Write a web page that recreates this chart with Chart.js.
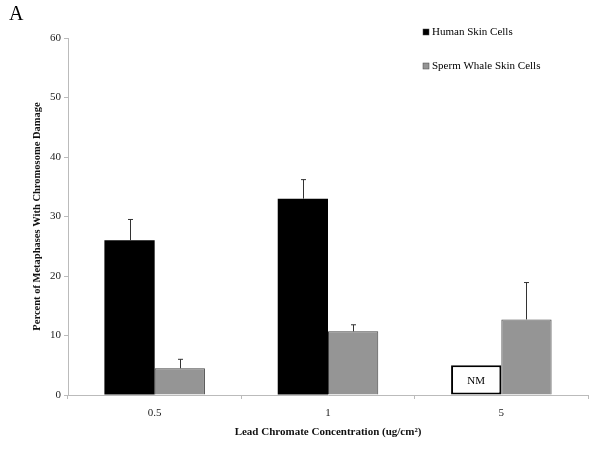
<!DOCTYPE html>
<html lang="en">
<head>
    <meta charset="UTF-8">
    <title>Chromosome Damage - Lead Chromate</title>
    <script src="https://cdn.jsdelivr.net/npm/chart.js"></script>
    <style>
        html, body { margin: 0; padding: 0; background: #fff; }
        #wrap { width: 600px; height: 452px; position: relative; }
    </style>
</head>
<body>
<div id="wrap"><canvas id="damageChart"></canvas></div>
<script>
    // values
    const concentrations = ["0.5", "1", "5"];
    const humanCells = [26, 33, 5];          // 5 = placeholder box for "NM"
    const humanErr = [3.5, 3.2, null];
    const notMeasured = [false, false, true];
    const whaleCells = [4.5, 10.7, 12.7];
    const whaleErr = [1.5, 1.1, 6.2];
    const yTicks = [0, 10, 20, 30, 40, 50, 60];

    const serif = "'Liberation Serif', 'Times New Roman', serif";

    const extras = {
        id: "extras",
        afterDatasetsDraw(chart) {
            const ctx = chart.ctx;
            const y = chart.scales.y;
            const errs = [humanErr, whaleErr];
            ctx.save();
            ctx.strokeStyle = "#333";
            ctx.lineWidth = 1;
            errs.forEach((errList, di) => {
                const meta = chart.getDatasetMeta(di);
                const vals = chart.data.datasets[di].data;
                meta.data.forEach((bar, j) => {
                    if (errList[j] == null) return;
                    const top = y.getPixelForValue(vals[j] + errList[j]);
                    const x = Math.round(bar.x) + 0.5;
                    ctx.beginPath();
                    ctx.moveTo(x, bar.y);
                    ctx.lineTo(x, top);
                    ctx.moveTo(x - 2.5, top);
                    ctx.lineTo(x + 2.5, top);
                    ctx.stroke();
                });
            });
            // NM label
            const hm = chart.getDatasetMeta(0);
            ctx.fillStyle = "#000";
            ctx.font = "11px " + serif;
            ctx.textAlign = "center";
            ctx.textBaseline = "middle";
            hm.data.forEach((bar, j) => {
                if (notMeasured[j]) ctx.fillText("NM", bar.x, (bar.y + bar.base) / 2 + 1);
            });
            ctx.restore();
        },
        afterDraw(chart) {
            const ctx = chart.ctx;
            const area = chart.chartArea;
            ctx.save();
            ctx.fillStyle = "#000";
            // panel letter
            ctx.font = "20px " + serif;
            ctx.textAlign = "left";
            ctx.textBaseline = "middle";
            ctx.fillText("A", 9, 15);
            // legend
            ctx.font = "11px " + serif;
            chart.data.datasets.forEach((ds, i) => {
                const ly = 32 + i * 34;
                ctx.fillStyle = ds.legendColor;
                ctx.fillRect(423, ly - 3, 6, 6);
                ctx.strokeStyle = "#444";
                ctx.lineWidth = 0.5;
                ctx.strokeRect(423, ly - 3, 6, 6);
                ctx.fillStyle = "#000";
                ctx.fillText(ds.label, 432, ly);
            });
            // axis titles
            ctx.font = "bold 11px " + serif;
            ctx.textAlign = "center";
            ctx.fillStyle = "#111";
            ctx.fillText("Lead Chromate Concentration (ug/cm\u00B2)", (area.left + area.right) / 2, 432);
            ctx.translate(37, (area.top + area.bottom) / 2);
            ctx.rotate(-Math.PI / 2);
            ctx.font = "bold 10.5px " + serif;
            ctx.fillText("Percent of Metaphases With Chromosome Damage", 0, 0);
            ctx.restore();
        }
    };

    new Chart(document.getElementById("damageChart"), {
        type: "bar",
        data: {
            labels: concentrations,
            datasets: [{
                label: "Human Skin Cells",
                data: humanCells,
                legendColor: "#000",
                backgroundColor: notMeasured.map(n => n ? "#fff" : "#000"),
                borderColor: "#000",
                borderWidth: notMeasured.map(n => n ? 2 : 0),
                borderSkipped: false,
                categoryPercentage: 0.58,
                barPercentage: 1
            }, {
                label: "Sperm Whale Skin Cells",
                data: whaleCells,
                legendColor: "#959595",
                backgroundColor: "#959595",
                borderColor: "#444",
                borderWidth: 1,
                categoryPercentage: 0.58,
                barPercentage: 1
            }]
        },
        options: {
            responsive: true,
            maintainAspectRatio: false,
            animation: false,
            layout: { padding: { top: 38, right: 12, left: 0, bottom: 0 } },
            plugins: { legend: { display: false }, tooltip: { enabled: false } },
            scales: {
                x: {
                    grid: { offset: true, drawOnChartArea: false, tickLength: 4, color: "#bbb" },
                    border: { color: "#bbb" },
                    ticks: { color: "#222", font: { family: serif, size: 11 }, padding: 8 },
                    afterFit(scale) { scale.height = 57; }
                },
                y: {
                    min: 0,
                    max: 60,
                    afterBuildTicks(scale) { scale.ticks = yTicks.map(v => ({ value: v })); },
                    grid: { drawOnChartArea: false, tickLength: 4, color: "#bbb" },
                    border: { color: "#bbb" },
                    ticks: { color: "#222", font: { family: serif, size: 11 }, padding: 3 },
                    afterFit(scale) { scale.width = 68; }
                }
            }
        },
        plugins: [extras]
    });
</script>
</body>
</html>
